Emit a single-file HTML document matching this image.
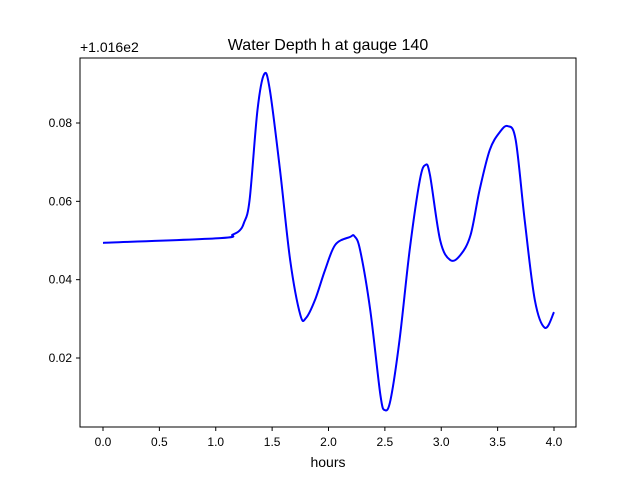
<!DOCTYPE html>
<html><head><meta charset="utf-8"><style>
body{margin:0;background:#fff}
svg{font-family:"Liberation Sans","DejaVu Sans",sans-serif}
</style></head><body>
<svg id="chart" width="640" height="480">
<rect width="640" height="480" fill="#fff"/>
<text x="328" y="50" font-size="16" text-anchor="middle">Water Depth h at gauge 140</text>
<text x="80" y="52" font-size="14">+1.016e2</text>
<text x="328" y="467" font-size="14" text-anchor="middle">hours</text>
<g id="ticks"></g>
<path id="line" fill="none" stroke="#0000ff" stroke-width="2"/>
<rect x="80" y="58" width="496" height="369" fill="none" stroke="#000" stroke-width="1"/>
</svg>
<script>
const xs=[0,1.04,1.15,1.21,1.25,1.30,1.37,1.43,1.48,1.57,1.66,1.75,1.80,1.88,1.97,2.06,2.19,2.23,2.28,2.37,2.46,2.50,2.55,2.63,2.72,2.81,2.86,2.90,2.99,3.08,3.17,3.26,3.34,3.43,3.52,3.59,3.66,3.74,3.83,3.92,4.0];
const ys=[0.0494,0.0506,0.0515,0.0525,0.0545,0.0603,0.0833,0.0925,0.0884,0.0680,0.0450,0.0310,0.0302,0.0348,0.0425,0.0489,0.0509,0.0511,0.0476,0.0323,0.0106,0.0067,0.0093,0.0246,0.0476,0.0654,0.0693,0.0667,0.0501,0.0450,0.0463,0.0514,0.0629,0.0731,0.0777,0.0792,0.0757,0.0552,0.0348,0.0277,0.0317];
const xTicks=[0,0.5,1,1.5,2,2.5,3,3.5,4];
const xLabels=["0.0","0.5","1.0","1.5","2.0","2.5","3.0","3.5","4.0"];
const yTicks=[0.02,0.04,0.06,0.08];
const yLabels=["0.02","0.04","0.06","0.08"];
const X=v=>103+v*112.75;
const Y=v=>123-(v-0.08)*3916.7;
const NS="http://www.w3.org/2000/svg";
const g=document.getElementById('ticks');
function mk(t,a){const e=document.createElementNS(NS,t);for(const k in a)e.setAttribute(k,a[k]);g.appendChild(e);return e;}
xTicks.forEach((v,i)=>{
 const l=mk('line',{x1:X(v),x2:X(v),y1:427,y2:431,stroke:'#000'});
 
 
 const t=mk('text',{x:X(v),y:446,'font-size':12,'text-anchor':'middle'});t.textContent=xLabels[i];
 
 
});
yTicks.forEach((v,i)=>{
 const l=mk('line',{x1:76,x2:80,y1:Y(v),y2:Y(v),stroke:'#000'});
 
 
 const t=mk('text',{x:72,y:Y(v)+4,'font-size':12,'text-anchor':'end'});t.textContent=yLabels[i];
 
 
});
const P=xs.map((x,i)=>[X(x),Y(ys[i])]);
let d='M'+P[0][0]+','+P[0][1];
for(let i=0;i<P.length-1;i++){
 const p0=P[Math.max(i-1,0)],p1=P[i],p2=P[i+1],p3=P[Math.min(i+2,P.length-1)];
 const c1=[p1[0]+(p2[0]-p0[0])/6,p1[1]+(p2[1]-p0[1])/6];
 const c2=[p2[0]-(p3[0]-p1[0])/6,p2[1]-(p3[1]-p1[1])/6];
 d+=`C${c1[0]},${c1[1]} ${c2[0]},${c2[1]} ${p2[0]},${p2[1]}`;
}
document.getElementById('line').setAttribute('d',d);
</script>
</body></html>
